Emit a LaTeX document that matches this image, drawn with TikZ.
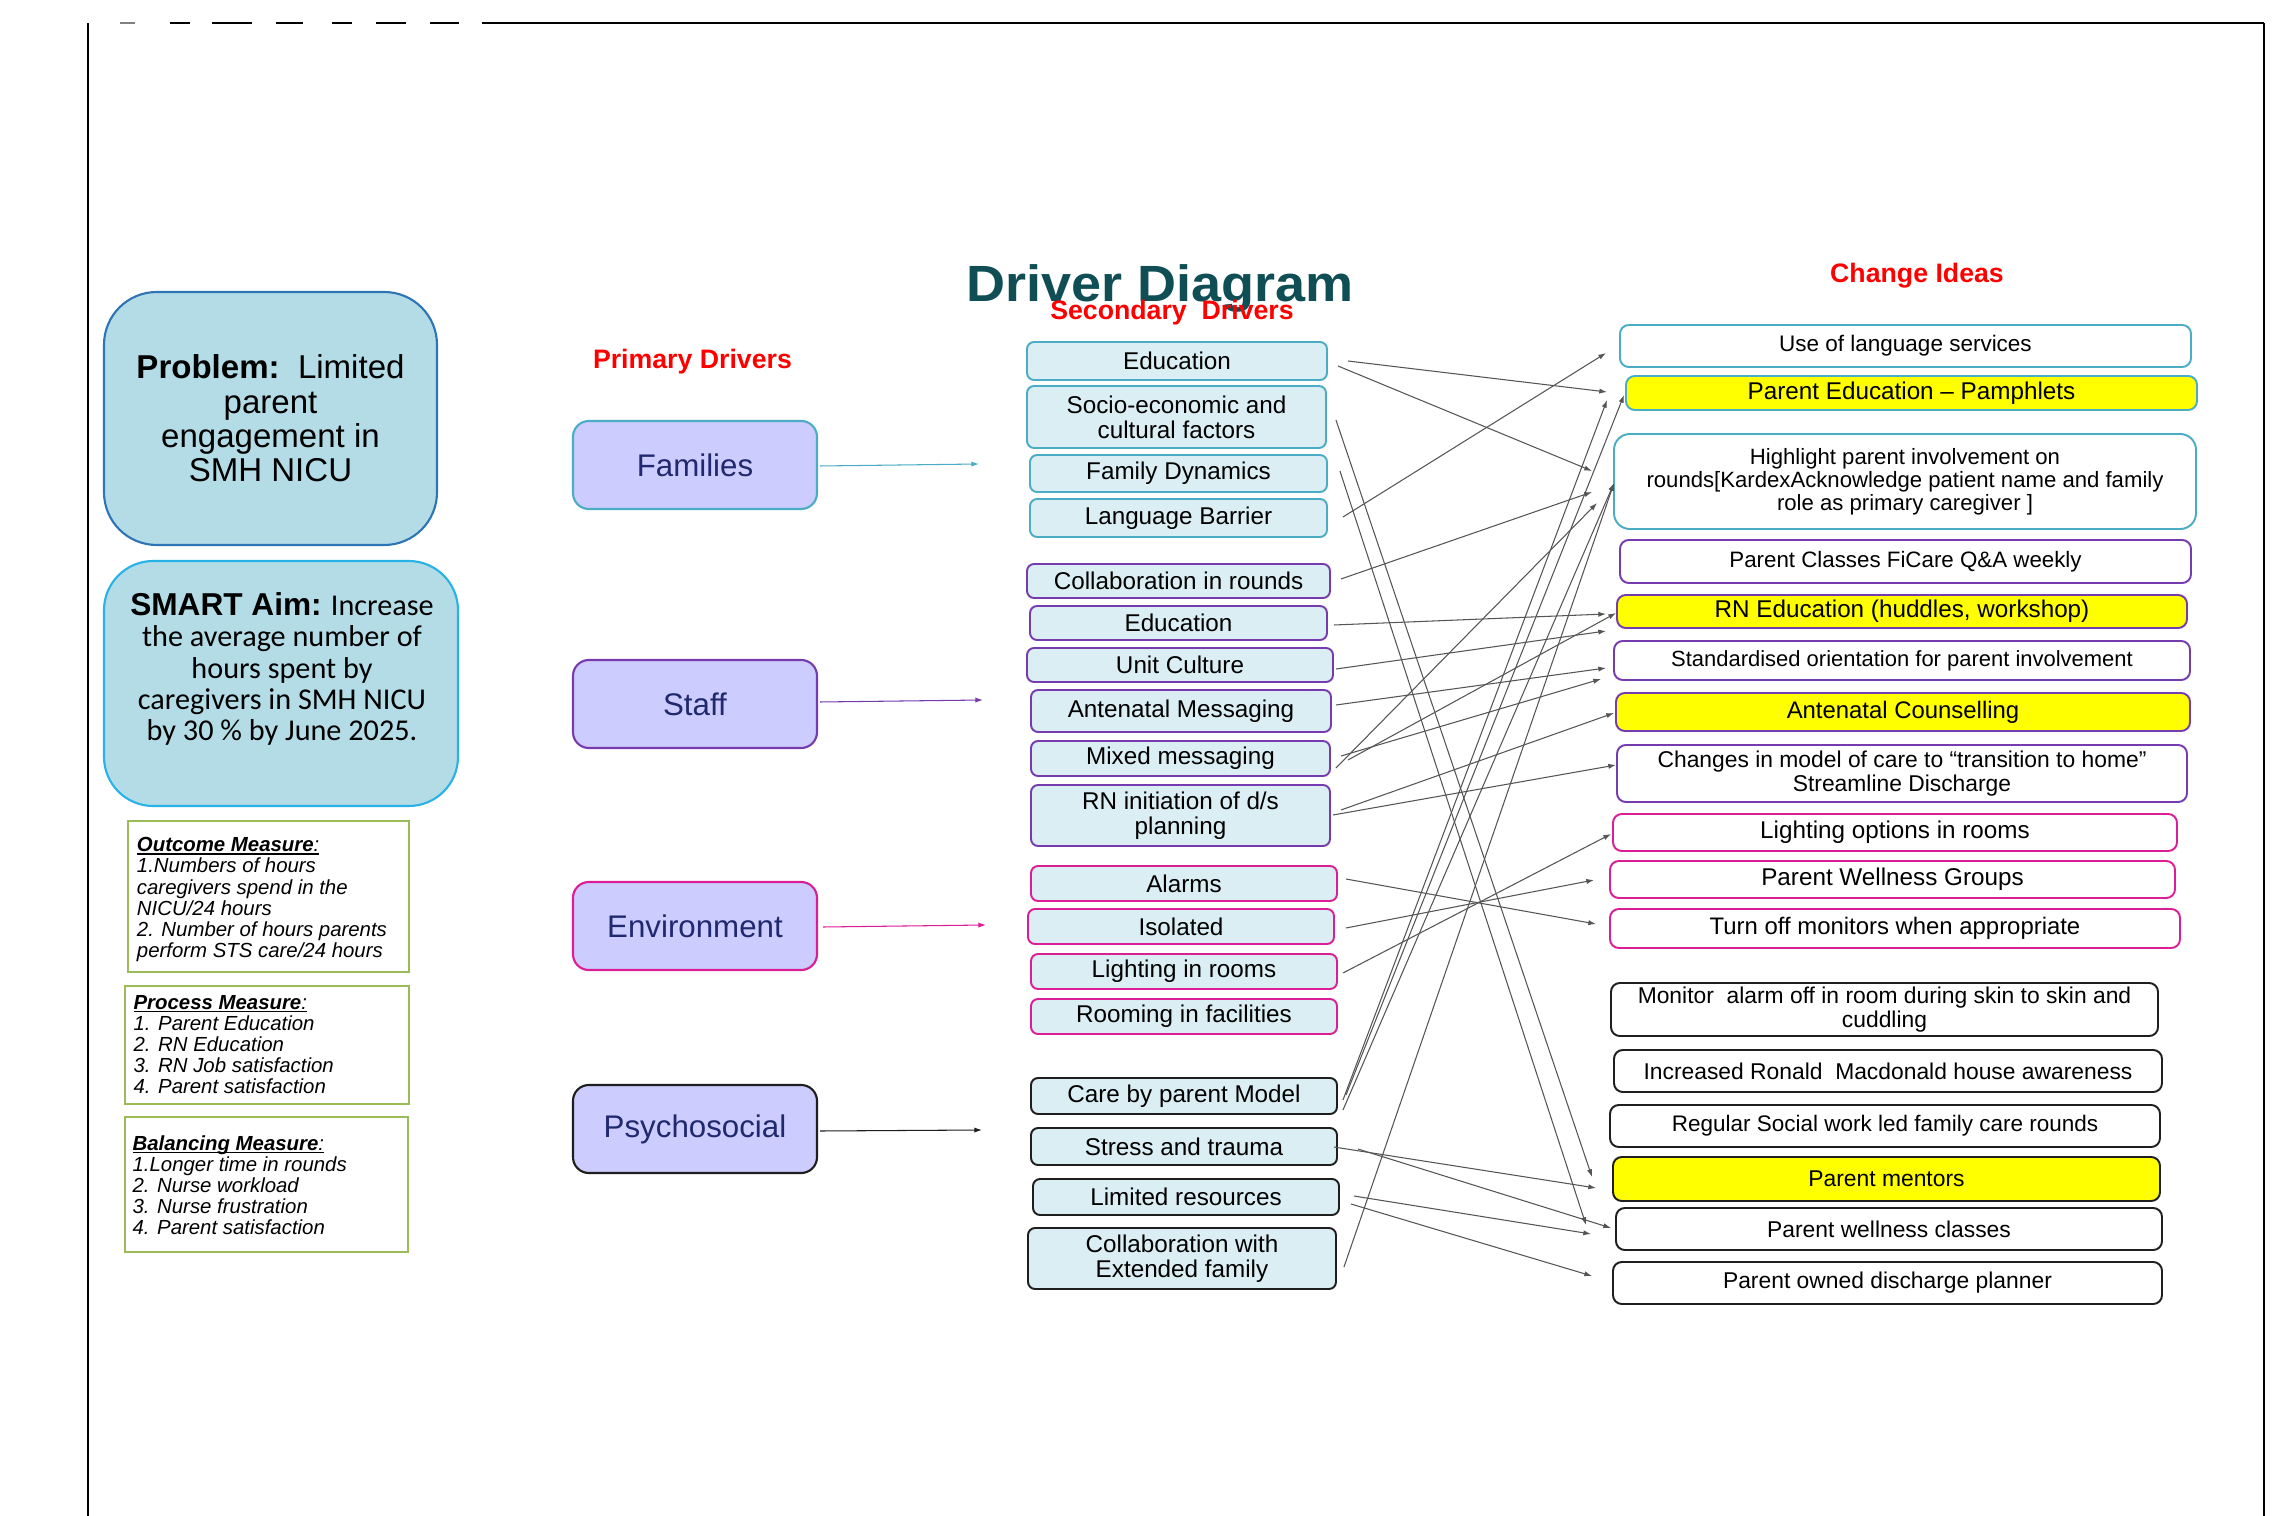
\documentclass[tikz,border=0pt]{standalone}
\usepackage{fontspec}
\setmainfont{Liberation Sans}
\newfontfamily\carlito{Carlito}
\usepackage{graphicx}
\usetikzlibrary{arrows.meta,calc}
\definecolor{famc}{RGB}{75,172,198}
\definecolor{stfc}{RGB}{118,60,175}
\definecolor{envc}{RGB}{220,30,150}
\definecolor{psyc}{RGB}{30,30,30}
\definecolor{secfill}{RGB}{218,238,243}
\definecolor{primfill}{RGB}{204,204,255}
\definecolor{navy}{RGB}{32,40,110}
\definecolor{probfill}{RGB}{180,220,230}
\definecolor{probdraw}{RGB}{46,117,182}
\definecolor{smartdraw}{RGB}{40,178,232}
\definecolor{measgreen}{RGB}{155,187,89}
\definecolor{titlec}{RGB}{15,78,84}
\definecolor{conngray}{RGB}{85,85,85}
\definecolor{hiyellow}{RGB}{255,255,0}
\newcommand\fsz[2]{\fontsize{#1}{#2}\selectfont}
\newcommand\measfont{\fsz{5.8}{6}\itshape\lineskiplimit -20pt\relax\lineskip 0pt\relax}
\newcommand\ulx[1]{\setbox0\hbox{#1}\rlap{\rule[-0.75pt]{\wd0}{0.35pt}}\box0}
\tikzset{
 sec/.style={draw, line width=0.55pt, rounded corners=2pt, fill=secfill, inner sep=0pt, align=center, font=\fsz{6.9}{7.1}},
 fam/.style={sec, draw=famc},
 stf/.style={sec, draw=stfc},
 env/.style={sec, draw=envc},
 psy/.style={sec, draw=psyc},
 chg/.style={draw, line width=0.55pt, rounded corners=2.5pt, fill=white, inner sep=0pt, align=center},
 hil/.style={chg, fill=hiyellow},
 prim/.style={draw, line width=0.6pt, rounded corners=4.5pt, fill=primfill, minimum width=2.44cm, minimum height=0.88cm, inner sep=0pt, font=\fsz{8.9}{10}, text=navy},
 conn/.style={draw=conngray, line width=0.3pt, -{Latex[length=2.2pt,width=1.5pt]}},
 parrow/.style={line width=0.3pt, -{Latex[length=2.2pt,width=1.5pt]}},
 meas/.style={draw=measgreen, line width=0.6pt, inner sep=0pt},
 meastxt/.style={anchor=north west, inner sep=0pt, align=left, font=\measfont},
 heading/.style={anchor=base, inner sep=0pt, text=red, font=\fsz{7.6}{9}\bfseries},
}
\begin{document}
\begin{tikzpicture}[x=1cm,y=1cm]
\useasboundingbox (0,0) rectangle (22.74,-15.16);
\fill[white] (0,0) rectangle (22.74,-15.16);
% frame
\draw[line width=0.55pt] (0.88,-15.16) -- (0.88,-0.23);
\draw[line width=0.8pt] (4.82,-0.23) -- (22.64,-0.23);
\draw[line width=0.8pt] (22.64,-0.23) -- (22.64,-15.16);
\draw[line width=0.5pt, gray] (1.20,-0.23) -- (1.35,-0.23);
\foreach \a/\b in {1.70/1.90, 2.12/2.52, 2.76/3.03, 3.32/3.52, 3.76/4.06, 4.30/4.59}
  \draw[line width=0.8pt] (\a,-0.23) -- (\b,-0.23);

% titles
\node[anchor=base, inner sep=0pt, text=titlec, font=\fsz{14.5}{16}\bfseries] (title) at (11.60,-3.02) {\scalebox{1.06}[1]{Driver Diagram}};
\node[heading] (hprim) at (6.925,-3.683) {Primary Drivers};
\node[heading] (hsec) at (11.72,-3.20) {Secondary\ \ Drivers};
\node[heading] (hchg) at (19.17,-2.83) {Change Ideas};

% left boxes
\node[draw=probdraw, fill=probfill, line width=0.6pt, rounded corners=15pt, minimum width=3.33cm, minimum height=2.53cm, inner sep=0pt, align=center, font=\fsz{9.4}{9.8}] (prob) at (2.705,-4.185) {\textbf{Problem:}\ \ Limited\\parent\\engagement in\\SMH NICU};
\node[draw=smartdraw, fill=probfill, line width=0.6pt, rounded corners=14pt, minimum width=3.54cm, minimum height=2.45cm, inner sep=0pt] (smart) at (2.81,-6.835) {};
\node[inner sep=0pt, align=center, font=\carlito\fsz{8.6}{8.9}] (smarttxt) at (2.82,-6.69) {{\fontsize{9}{8.9}\selectfont\rmfamily\bfseries SMART Aim:} Increase\\the average number of\\hours spent by\\caregivers in SMH NICU\\by 30 \% by June 2025.};

\node[meas, minimum width=2.81cm, minimum height=1.51cm] (out) at (2.685,-8.965) {};
\node[meastxt] (outtxt) at ($(out.north west)+(0.093,-0.17)$) {\ulx{\textbf{Outcome Measure}:}\\1.Numbers of hours\\caregivers spend in the\\NICU/24 hours\\2. Number of hours parents\\perform STS care/24 hours};
\node[meas, minimum width=2.84cm, minimum height=1.18cm] (proc) at (2.67,-10.45) {};
\node[meastxt] (proctxt) at ($(proc.north west)+(0.09,-0.095)$) {\ulx{\textbf{Process Measure}:}\\1. Parent Education\\2. RN Education\\3. RN Job satisfaction\\4. Parent satisfaction};
\node[meas, minimum width=2.83cm, minimum height=1.35cm] (bal) at (2.665,-11.845) {};
\node[meastxt] (baltxt) at ($(bal.north west)+(0.08,-0.19)$) {\ulx{\textbf{Balancing Measure}:}\\1.Longer time in rounds\\2. Nurse workload\\3. Nurse frustration\\4. Parent satisfaction};

% primary drivers
\node[prim, draw=famc] (p1) at (6.95,-4.65) {Families};
\node[prim, draw=stfc] (p2) at (6.95,-7.04) {Staff};
\node[prim, draw=envc] (p3) at (6.95,-9.26) {Environment};
\node[prim, draw=psyc] (p4) at (6.95,-11.29) {Psychosocial};
\coordinate (e1) at (9.79,-4.64);
\coordinate (e2) at (9.83,-7.00);
\coordinate (e3) at (9.86,-9.25);
\coordinate (e4) at (9.82,-11.30);
\draw[parrow, famc] ($(p1.east)+(0.02,-0.01)$) -- (e1);
\draw[parrow, stfc] ($(p2.east)+(0.02,0.02)$) -- (e2);
\draw[parrow, envc] ($(p3.east)+(0.05,-0.01)$) -- (e3);
\draw[parrow, psyc] ($(p4.east)+(0.02,-0.02)$) -- (e4);

% secondary drivers
\node[fam, minimum width=3.00cm, minimum height=0.38cm] (s1) at (11.77,-3.61) {Education};
\node[fam, minimum width=2.99cm, minimum height=0.62cm] (s2) at (11.765,-4.17) {Socio-economic and\\cultural factors};
\node[fam, minimum width=2.97cm, minimum height=0.37cm] (s3) at (11.785,-4.735) {Family Dynamics};
\node[fam, minimum width=2.97cm, minimum height=0.38cm] (s4) at (11.785,-5.18) {Language Barrier};
\node[stf, minimum width=3.03cm, minimum height=0.34cm] (s5) at (11.785,-5.81) {Collaboration in rounds};
\node[stf, minimum width=2.97cm, minimum height=0.34cm] (s6) at (11.785,-6.23) {Education};
\node[stf, minimum width=3.06cm, minimum height=0.34cm] (s7) at (11.80,-6.65) {Unit Culture};
\node[stf, minimum width=3.00cm, minimum height=0.42cm] (s8) at (11.81,-7.11) {Antenatal Messaging};
\node[stf, minimum width=2.99cm, minimum height=0.35cm] (s9) at (11.805,-7.585) {Mixed messaging};
\node[stf, minimum width=2.99cm, minimum height=0.61cm] (s10) at (11.805,-8.155) {RN initiation of d/s\\planning};
\node[env, minimum width=3.06cm, minimum height=0.35cm] (s11) at (11.84,-8.835) {Alarms};
\node[env, minimum width=3.06cm, minimum height=0.35cm] (s12) at (11.81,-9.265) {Isolated};
\node[env, minimum width=3.06cm, minimum height=0.35cm] (s13) at (11.84,-9.715) {Lighting in rooms};
\node[env, minimum width=3.06cm, minimum height=0.35cm] (s14) at (11.84,-10.165) {Rooming in facilities};
\node[psy, minimum width=3.06cm, minimum height=0.36cm] (s15) at (11.84,-10.96) {Care by parent Model};
\node[psy, minimum width=3.06cm, minimum height=0.37cm] (s16) at (11.84,-11.465) {Stress and trauma};
\node[psy, minimum width=3.06cm, minimum height=0.36cm] (s17) at (11.86,-11.97) {Limited resources};
\node[psy, minimum width=3.08cm, minimum height=0.61cm] (s18) at (11.82,-12.585) {Collaboration with\\Extended family};

% change ideas
\node[chg, draw=famc, minimum width=5.71cm, minimum height=0.42cm, font=\fsz{6.4}{6.7}] (c1) at (19.055,-3.46) {Use of language services};
\node[hil, draw=famc, minimum width=5.71cm, minimum height=0.34cm, font=\fsz{6.9}{7.1}] (c2) at (19.115,-3.93) {Parent Education – Pamphlets};
\node[chg, draw=famc, minimum width=5.82cm, minimum height=0.95cm, rounded corners=4.5pt, font=\fsz{6.3}{6.6}] (c3) at (19.05,-4.815) {Highlight parent involvement on\\rounds[KardexAcknowledge patient name and family\\role as primary caregiver ]};
\node[chg, draw=stfc, minimum width=5.71cm, minimum height=0.43cm, font=\fsz{6.35}{6.7}] (c4) at (19.055,-5.615) {Parent Classes FiCare Q\&A weekly};
\node[hil, draw=stfc, minimum width=5.70cm, minimum height=0.33cm, font=\fsz{6.9}{7.1}] (c5) at (19.02,-6.115) {RN Education (huddles, workshop)};
\node[chg, draw=stfc, minimum width=5.76cm, minimum height=0.39cm, font=\fsz{6.25}{6.6}] (c6) at (19.02,-6.605) {Standardised orientation for parent involvement};
\node[hil, draw=stfc, minimum width=5.74cm, minimum height=0.38cm, font=\fsz{6.8}{7.1}] (c7) at (19.03,-7.12) {Antenatal Counselling};
\node[chg, draw=stfc, minimum width=5.70cm, minimum height=0.57cm, font=\fsz{6.5}{6.6}] (c8) at (19.02,-7.735) {Changes in model of care to “transition to home”\\Streamline Discharge};
\node[chg, draw=envc, minimum width=5.64cm, minimum height=0.37cm, font=\fsz{6.9}{7.1}] (c9) at (18.95,-8.325) {Lighting options in rooms};
\node[chg, draw=envc, minimum width=5.65cm, minimum height=0.37cm, font=\fsz{6.9}{7.1}] (c10) at (18.925,-8.795) {Parent Wellness Groups};
\node[chg, draw=envc, minimum width=5.70cm, minimum height=0.39cm, font=\fsz{6.8}{7.1}] (c11) at (18.95,-9.285) {Turn off monitors when appropriate};
\node[chg, draw=psyc, minimum width=5.47cm, minimum height=0.53cm, font=\fsz{6.5}{6.8}] (c12) at (18.845,-10.095) {Monitor\ \ alarm off in room during skin to skin and\\cuddling};
\node[chg, draw=psyc, minimum width=5.48cm, minimum height=0.42cm, font=\fsz{6.5}{6.8}] (c13) at (18.88,-10.71) {Increased Ronald\ \ Macdonald house awareness};
\node[chg, draw=psyc, minimum width=5.50cm, minimum height=0.42cm, font=\fsz{6.4}{6.8}] (c14) at (18.85,-11.26) {Regular Social work led family care rounds};
\node[hil, draw=psyc, minimum width=5.47cm, minimum height=0.44cm, font=\fsz{6.5}{6.8}] (c15) at (18.865,-11.79) {Parent mentors};
\node[chg, draw=psyc, minimum width=5.46cm, minimum height=0.42cm, font=\fsz{6.5}{6.8}] (c16) at (18.89,-12.29) {Parent wellness classes};
\node[chg, draw=psyc, minimum width=5.49cm, minimum height=0.42cm, font=\fsz{6.5}{6.8}] (c17) at (18.875,-12.83) {Parent owned discharge planner};

% connectors
\draw[conn] ($(s1.east)+(0.20,0)$) -- ($(c2.west)+(-0.18,0.01)$);
\draw[conn] ($(s1.east)+(0.10,-0.05)$) -- ($(c3.west)+(-0.21,0.105)$);
\draw[conn] ($(s4.east)+(0.15,0.01)$) -- ($(c1.west)+(-0.13,-0.07)$);
\draw[conn] ($(s2.east)+(0.09,-0.03)$) -- ($(c15.west)+(-0.20,0.02)$);
\draw[conn] ($(s3.east)+(0.12,0.025)$) -- ($(c16.west)+(-0.29,0.04)$);
\draw[conn] ($(s5.east)+(0.10,0.02)$) -- ($(c3.west)+(-0.21,-0.105)$);
\draw[conn] ($(s6.east)+(0.06,-0.02)$) -- ($(c5.west)+(-0.10,-0.025)$);
\draw[conn] ($(s7.east)+(0.02,-0.04)$) -- ($(c5.west)+(-0.10,-0.195)$);
\draw[conn] ($(s8.east)+(0.04,0.06)$) -- ($(c6.west)+(-0.07,-0.075)$);
\draw[conn] ($(s9.east)+(0.10,0.025)$) -- ($(c6.west)+(-0.12,-0.185)$);
\draw[conn] ($(s9.east)+(0.17,-0.015)$) -- ($(c5.west)+(0,-0.015)$);
\draw[conn] ($(s9.east)+(0.05,-0.095)$) -- ($(c3.west)+(-0.16,-0.215)$);
\draw[conn] ($(s10.east)+(0.10,0.055)$) -- ($(c7.west)+(-0.01,-0.01)$);
\draw[conn] ($(s10.east)+(0.02,0.005)$) -- ($(c8.west)+(0,0.085)$);
\draw[conn] ($(s11.east)+(0.08,0.045)$) -- ($(c11.west)+(-0.13,0.045)$);
\draw[conn] ($(s12.east)+(0.11,-0.015)$) -- ($(c10.west)+(-0.15,-0.005)$);
\draw[conn] ($(s13.east)+(0.05,-0.015)$) -- ($(c9.west)+(-0.01,-0.015)$);
\draw[conn] ($(s15.east)+(0.05,-0.04)$) -- ($(c2.west)+(-0.18,-0.07)$);
\draw[conn] ($(s15.east)+(0.08,0.01)$) -- ($(c2.west)+(-0.01,-0.02)$);
\draw[conn] ($(s15.east)+(0.05,-0.14)$) -- ($(c3.west)+(0.01,-0.015)$);
\draw[conn] ($(s16.east)+(-0.04,-0.005)$) -- ($(c15.west)+(-0.16,-0.09)$);
\draw[conn] ($(s16.east)+(0.20,-0.025)$) -- ($(c16.west)+(-0.04,0.01)$);
\draw[conn] ($(s17.east)+(0.14,0.01)$) -- ($(c16.west)+(-0.24,-0.05)$);
\draw[conn] ($(s17.east)+(0.11,-0.07)$) -- ($(c17.west)+(-0.20,0.07)$);
\draw[conn] ($(s18.east)+(0.07,-0.085)$) -- ($(c3.west)+(0.01,-0.015)$);
\end{tikzpicture}
\end{document}
